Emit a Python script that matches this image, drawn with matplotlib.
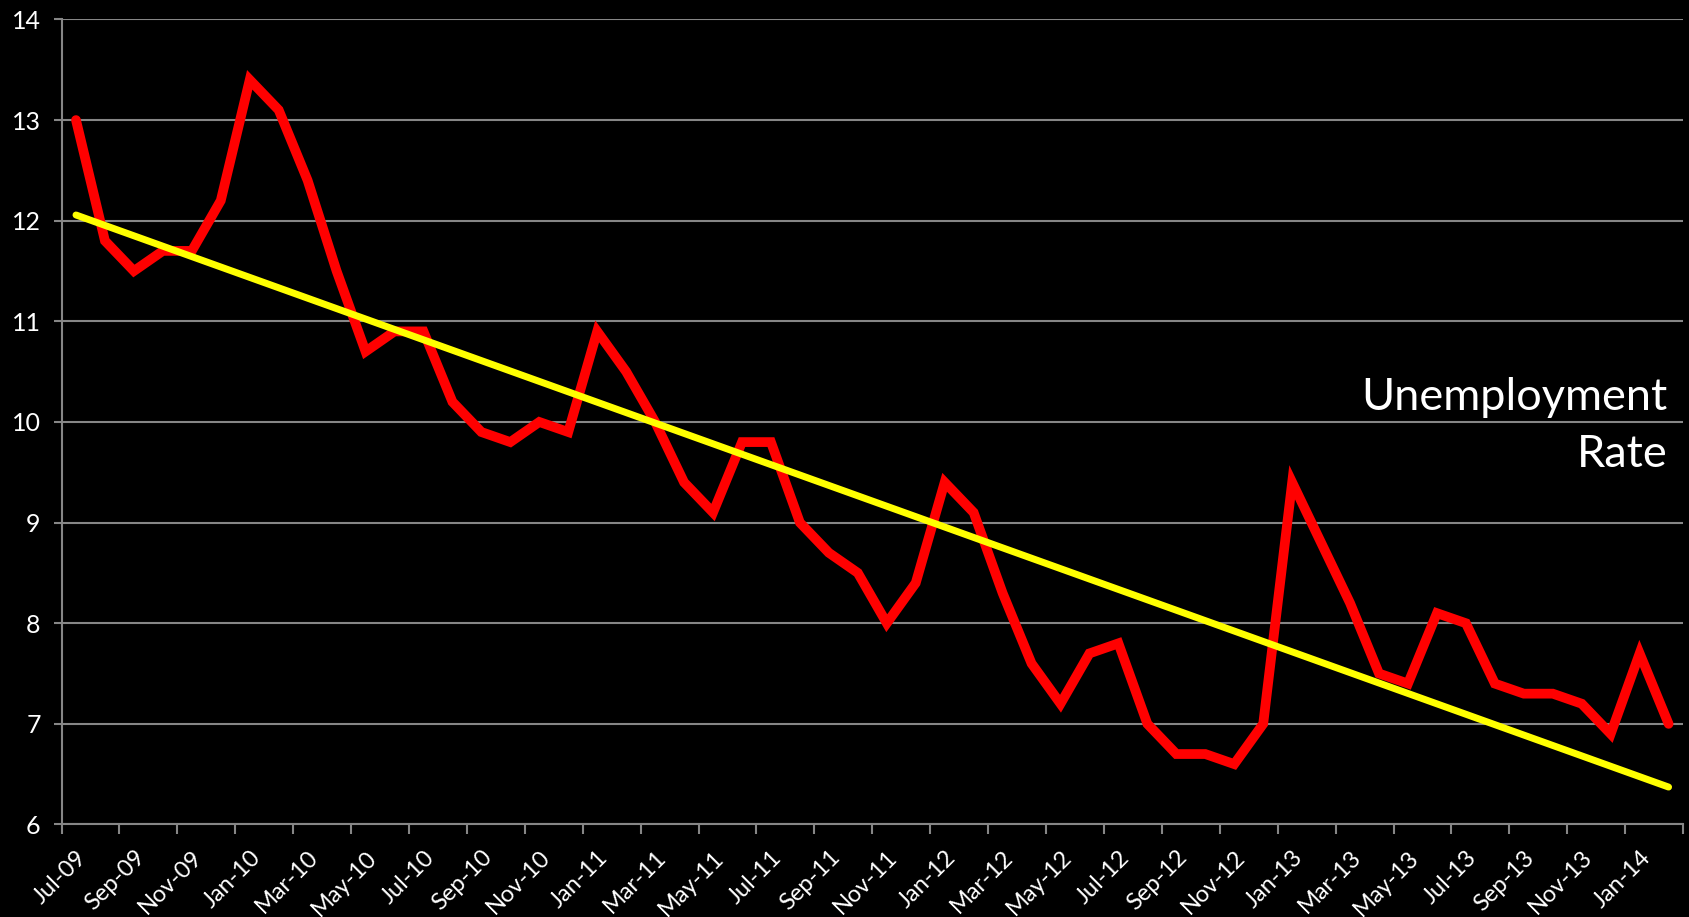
import matplotlib
matplotlib.use("Agg")
import matplotlib.pyplot as plt
import numpy as np

plt.rcParams["font.family"] = ["Lato", "DejaVu Sans"]

# monthly unemployment rate, Jul-09 .. Feb-14
months = [
    "Jul-09", "Aug-09", "Sep-09", "Oct-09", "Nov-09", "Dec-09",
    "Jan-10", "Feb-10", "Mar-10", "Apr-10", "May-10", "Jun-10",
    "Jul-10", "Aug-10", "Sep-10", "Oct-10", "Nov-10", "Dec-10",
    "Jan-11", "Feb-11", "Mar-11", "Apr-11", "May-11", "Jun-11",
    "Jul-11", "Aug-11", "Sep-11", "Oct-11", "Nov-11", "Dec-11",
    "Jan-12", "Feb-12", "Mar-12", "Apr-12", "May-12", "Jun-12",
    "Jul-12", "Aug-12", "Sep-12", "Oct-12", "Nov-12", "Dec-12",
    "Jan-13", "Feb-13", "Mar-13", "Apr-13", "May-13", "Jun-13",
    "Jul-13", "Aug-13", "Sep-13", "Oct-13", "Nov-13", "Dec-13",
    "Jan-14", "Feb-14",
]
rate = [
    13.0, 11.8, 11.5, 11.7, 11.7, 12.2,
    13.4, 13.1, 12.4, 11.5, 10.7, 10.9,
    10.9, 10.2, 9.9, 9.8, 10.0, 9.9,
    10.9, 10.5, 10.0, 9.4, 9.1, 9.8,
    9.8, 9.0, 8.7, 8.5, 8.0, 8.4,
    9.4, 9.1, 8.3, 7.6, 7.2, 7.7,
    7.8, 7.0, 6.7, 6.7, 6.6, 7.0,
    9.4, 8.8, 8.2, 7.5, 7.4, 8.1,
    8.0, 7.4, 7.3, 7.3, 7.2, 6.9,
    7.7, 7.0,
]
y_ticks = [6, 7, 8, 9, 10, 11, 12, 13, 14]

x = np.arange(len(months))
slope, intercept = np.polyfit(x, rate, 1)
trend = slope * x + intercept

fig = plt.figure(figsize=(16.9, 9.17), dpi=100, facecolor="black")
ax = fig.add_axes([0.0364, 0.1009, 0.9595, 0.8779], facecolor="black")

ax.plot(x, rate, color="#ff0000", linewidth=7, solid_joinstyle="miter",
        solid_capstyle="round", zorder=3)
ax.plot(x, trend, color="#ffff00", linewidth=5, solid_capstyle="round", zorder=4)

ax.set_xlim(-0.5, len(months) - 0.5)
ax.set_ylim(6, 14)
ax.set_yticks(y_ticks)
ax.set_yticklabels([str(v) for v in y_ticks])
ax.grid(axis="y", color="#868686", linewidth=1.5, zorder=1)

# labels every second month, tick marks between categories
ax.set_xticks(x[::2])
ax.set_xticklabels(months[::2], rotation=45, ha="right", rotation_mode="anchor")
ax.set_xticks(np.arange(-0.5, len(months), 2), minor=True)
ax.tick_params(axis="x", which="major", length=0, pad=16, labelsize=17, labelcolor="white")
ax.tick_params(axis="x", which="minor", length=7, width=1.5, color="#868686")
ax.tick_params(axis="y", length=6, width=1.5, color="#868686", labelsize=18,
               labelcolor="white", pad=9)

for side in ["top", "right"]:
    ax.spines[side].set_visible(False)
for side in ["left", "bottom"]:
    ax.spines[side].set_color("#868686")
    ax.spines[side].set_linewidth(1.5)

ax.text(0.9905, 0.556, "Unemployment\nRate", transform=ax.transAxes,
        ha="right", va="top", color="white", fontsize=32.5, linespacing=1.5)

fig.savefig("out.png", facecolor="black")
